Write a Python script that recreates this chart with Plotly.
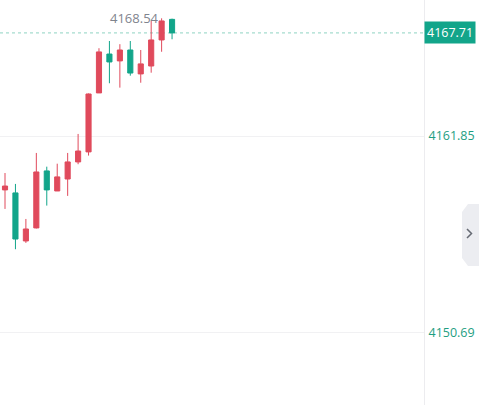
import plotly.graph_objects as go

idx = list(range(17))
opens  = [4158.79, 4158.62, 4155.89, 4156.63, 4159.87, 4158.73, 4159.41, 4160.38, 4160.95, 4164.30,
          4166.51, 4166.12, 4166.74, 4165.38, 4165.83, 4167.31, 4168.48]
highs  = [4159.75, 4159.13, 4157.14, 4160.89, 4160.11, 4160.28, 4160.89, 4161.97, 4164.27, 4166.84,
          4167.25, 4167.07, 4167.25, 4166.74, 4168.39, 4168.54, 4168.52]
lows   = [4157.71, 4155.42, 4155.78, 4156.60, 4157.90, 4158.73, 4158.45, 4160.25, 4160.74, 4164.30,
          4164.85, 4164.60, 4165.28, 4164.88, 4165.45, 4166.64, 4167.35]
closes = [4159.01, 4156.00, 4156.57, 4159.81, 4158.79, 4159.53, 4160.38, 4161.00, 4164.24, 4166.63,
          4166.06, 4166.74, 4165.43, 4165.95, 4167.31, 4168.39, 4167.71]

tick_vals = [4150.69, 4161.85]
tick_text = ["4150.69", "4161.85"]
last_price = 4167.71
high_label = "4168.54"

RED = "#E04A5C"
GREEN = "#12A58A"
W, H = 479, 405
PLOT_W = 424


def px(x):
    return x / PLOT_W


def py(y):
    return 1 - y / H


fig = go.Figure()
fig.add_trace(go.Candlestick(
    x=idx, open=opens, high=highs, low=lows, close=closes,
    increasing=dict(line=dict(color=RED, width=1), fillcolor=RED),
    decreasing=dict(line=dict(color=GREEN, width=1), fillcolor=GREEN),
    whiskerwidth=0, hoverinfo="skip",
))

# last price dotted line
fig.add_shape(type="line", xref="paper", yref="y", x0=0, x1=1, y0=last_price, y1=last_price,
              line=dict(color="#8ED3C3", width=1, dash="dot"), layer="below")

# high label
hi_i = max(range(len(highs)), key=lambda i: highs[i])
fig.add_annotation(x=hi_i, y=highs[hi_i], xref="x", yref="y", text=high_label,
                   showarrow=False, xanchor="right", yanchor="middle", xshift=-1, yshift=0,
                   font=dict(family="Open Sans", size=13, color="#7F848E"))

# last price tag
fig.add_annotation(x=1, y=last_price, xref="paper", yref="y", text=f"{last_price:.2f}",
                   showarrow=False, xanchor="left", yanchor="middle", bgcolor=GREEN,
                   borderpad=2, font=dict(family="Open Sans", size=12.5, color="white"))

# right side tab
tab_path = (f"M {px(480)},{py(204)} L {px(468)},{py(204)} L {px(462)},{py(212)} "
            f"L {px(462)},{py(258)} L {px(468)},{py(266)} L {px(480)},{py(266)} Z")
fig.add_shape(type="path", xref="paper", yref="paper", path=tab_path,
              fillcolor="#ECEDF1", line=dict(width=0), layer="above")
chev = f"M {px(467)},{py(229)} L {px(471.5)},{py(233.5)} L {px(467)},{py(238)}"
fig.add_shape(type="path", xref="paper", yref="paper", path=chev,
              line=dict(color="#666A73", width=1.5), layer="above")

fig.update_layout(
    width=W, height=H, margin=dict(l=0, r=W - PLOT_W, t=0, b=0),
    paper_bgcolor="white", plot_bgcolor="white", showlegend=False,
    xaxis=dict(range=[-0.48, 40.13], rangeslider=dict(visible=False), showgrid=False,
               showticklabels=False, zeroline=False, showline=False),
    yaxis=dict(side="right", range=[4146.57, 4169.58], tickvals=tick_vals, ticktext=tick_text,
               showgrid=True, gridcolor="#F1F1F3", gridwidth=1, zeroline=False,
               showline=True, linecolor="#ECECEF", linewidth=1,
               ticks="outside", ticklen=1, tickcolor="rgba(0,0,0,0)",
               tickfont=dict(family="Open Sans", size=12.5, color="#1E9E82")),
)

fig.write_html("out.html")
